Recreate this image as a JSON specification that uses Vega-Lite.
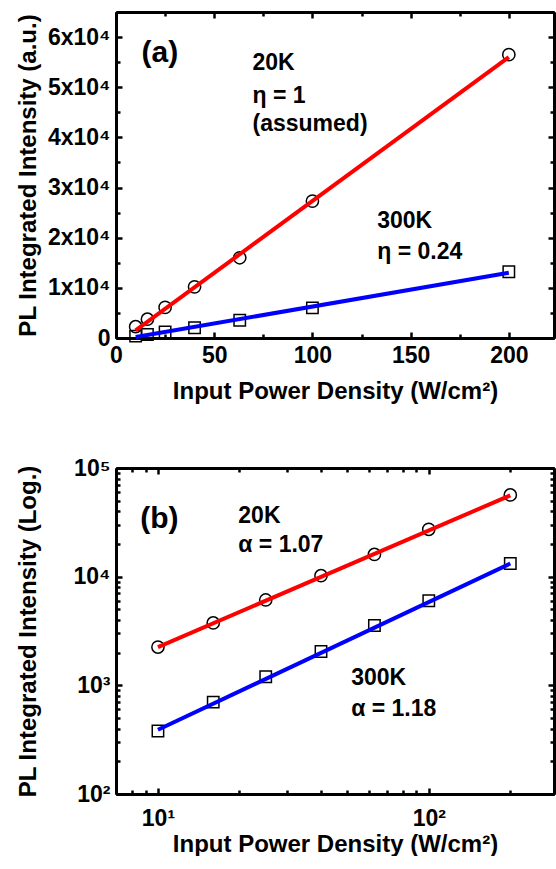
{
  "$schema": "https://vega.github.io/schema/vega-lite/v6.json",
  "padding": {"left": 15, "top": 10, "right": 0, "bottom": 0},
  "spacing": 130,
  "bounds": "flush",
  "config": {
    "view": {"stroke": null},
    "font": "Liberation Sans",
    "axis": {"grid": false, "domainColor": "black", "domainWidth": 3, "tickColor": "black", "tickWidth": 2.5, "labelFont": "Liberation Sans", "labelFontWeight": "bold", "labelFontSize": 23, "labelColor": "black", "labelFlush": false, "labelOverlap": false, "titleFont": "Liberation Sans", "titleFontWeight": "bold", "titleFontSize": 24, "titleColor": "black"},
    "text": {"font": "Liberation Sans", "fontWeight": "bold", "fontSize": 23, "color": "black"}
  },
  "datasets": {
    "points": [
      {"series": "20K", "x": 10, "y": 2250},
      {"series": "20K", "x": 16, "y": 3750},
      {"series": "20K", "x": 25, "y": 6100},
      {"series": "20K", "x": 40, "y": 10200},
      {"series": "20K", "x": 63, "y": 16000},
      {"series": "20K", "x": 100, "y": 27300},
      {"series": "20K", "x": 200, "y": 56500},
      {"series": "300K", "x": 10, "y": 380},
      {"series": "300K", "x": 16, "y": 700},
      {"series": "300K", "x": 25, "y": 1200},
      {"series": "300K", "x": 40, "y": 2050},
      {"series": "300K", "x": 63, "y": 3550},
      {"series": "300K", "x": 100, "y": 6000},
      {"series": "300K", "x": 200, "y": 13200}
    ],
    "fitA": [
      {"series": "20K", "x": 10, "y": 1500},
      {"series": "20K", "x": 200, "y": 56000},
      {"series": "300K", "x": 10, "y": 200},
      {"series": "300K", "x": 200, "y": 13000}
    ],
    "fitB": [
      {"series": "20K", "x": 10, "y": 2250},
      {"series": "20K", "x": 200, "y": 56000},
      {"series": "300K", "x": 10, "y": 390},
      {"series": "300K", "x": 200, "y": 13200}
    ],
    "labA": [
      {"label": "(a)", "x": 13, "y": 56900},
      {"label": "20K", "x": 69.5, "y": 54900},
      {"label": "η = 1", "x": 69.5, "y": 48300},
      {"label": "(assumed)", "x": 69.5, "y": 42600},
      {"label": "300K", "x": 133, "y": 23400},
      {"label": "η = 0.24", "x": 133, "y": 17100}
    ],
    "labB": [
      {"label": "(b)", "x": 8.6, "y": 33900},
      {"label": "20K", "x": 19.8, "y": 36300},
      {"label": "α = 1.07", "x": 19.8, "y": 19500},
      {"label": "300K", "x": 51.7, "y": 1156},
      {"label": "α = 1.18", "x": 51.7, "y": 600}
    ]
  },
  "vconcat": [
    {
      "width": 438,
      "height": 326,
      "resolve": {"axis": {"x": "independent", "y": "independent"}},
      "layer": [
        {
          "data": {"name": "points"},
          "transform": [{"filter": "datum.series == '20K'"}],
          "mark": {"type": "point", "shape": "circle", "filled": false, "color": "black", "strokeWidth": 1.5, "size": 150, "opacity": 1},
          "encoding": {
            "x": {"field": "x", "type": "quantitative", "scale": {"domain": [0, 223], "nice": false, "zero": false},
              "axis": {"orient": "bottom", "values": [0, 50, 100, 150, 200], "tickSize": -6, "labelPadding": 12, "format": "d", "title": "Input Power Density (W/cm²)", "titleY": 60, "titleBaseline": "alphabetic"}},
            "y": {"field": "y", "type": "quantitative", "scale": {"domain": [0, 65000], "nice": false, "zero": false},
              "axis": {"orient": "left", "values": [0, 10000, 20000, 30000, 40000, 50000, 60000], "tickSize": -6, "labelPadding": 12, "labelExpr": "datum.value == 0 ? '0' : (datum.value / 10000) + 'x10⁴'", "title": "PL Integrated Intensity (a.u.)", "titleX": -81, "titleBaseline": "alphabetic"}}
          }
        },
        {
          "data": {"name": "points"},
          "transform": [{"filter": "datum.series == '300K'"}],
          "mark": {"type": "point", "shape": "square", "filled": false, "color": "black", "strokeWidth": 1.5, "size": 130, "opacity": 1},
          "encoding": {
            "x": {"field": "x", "type": "quantitative", "axis": {"orient": "top", "values": [0, 50, 100, 150, 200], "tickSize": -6, "labels": false, "title": null}},
            "y": {"field": "y", "type": "quantitative", "axis": {"orient": "right", "values": [0, 10000, 20000, 30000, 40000, 50000, 60000], "tickSize": -6, "labels": false, "title": null}}
          }
        },
        {
          "data": {"name": "fitA"},
          "mark": {"type": "line", "strokeWidth": 4},
          "encoding": {
            "x": {"field": "x", "type": "quantitative", "axis": {"orient": "bottom", "values": [25, 75, 125, 175], "tickSize": -4, "labels": false, "title": null}},
            "y": {"field": "y", "type": "quantitative", "axis": {"orient": "left", "values": [5000, 15000, 25000, 35000, 45000, 55000], "tickSize": -4, "labels": false, "title": null}},
            "color": {"field": "series", "type": "nominal", "scale": {"domain": ["20K", "300K"], "range": ["#ff0000", "#0000ff"]}, "legend": null}
          }
        },
        {
          "data": {"name": "labA"},
          "mark": {"type": "text", "align": "left", "baseline": "middle"},
          "encoding": {
            "x": {"field": "x", "type": "quantitative", "axis": {"orient": "top", "values": [25, 75, 125, 175], "tickSize": -4, "labels": false, "title": null}},
            "y": {"field": "y", "type": "quantitative", "axis": {"orient": "right", "values": [5000, 15000, 25000, 35000, 45000, 55000], "tickSize": -4, "labels": false, "title": null}},
            "text": {"field": "label"},
            "size": {"condition": {"test": "datum.label == '(a)'", "value": 30}, "value": 23}
          }
        }
      ]
    },
    {
      "width": 438,
      "height": 326,
      "resolve": {"axis": {"x": "independent", "y": "independent"}},
      "layer": [
        {
          "data": {"name": "points"},
          "transform": [{"filter": "datum.series == '20K'"}],
          "mark": {"type": "point", "shape": "circle", "filled": false, "color": "black", "strokeWidth": 1.5, "size": 150, "opacity": 1},
          "encoding": {
            "x": {"field": "x", "type": "quantitative", "scale": {"type": "log", "domain": [7, 290], "nice": false},
              "axis": {"orient": "bottom", "values": [10, 100], "tickSize": -6, "labelPadding": 19, "labelExpr": "datum.value == 10 ? '10¹' : '10²'", "title": "Input Power Density (W/cm²)", "titleY": 57, "titleBaseline": "alphabetic"}},
            "y": {"field": "y", "type": "quantitative", "scale": {"type": "log", "domain": [100, 100000], "nice": false},
              "axis": {"orient": "left", "values": [100, 1000, 10000, 100000], "tickSize": -6, "labelPadding": 12, "labelExpr": "datum.value == 100 ? '10²' : datum.value == 1000 ? '10³' : datum.value == 10000 ? '10⁴' : '10⁵'", "title": "PL Integrated Intensity (Log.)", "titleX": -81, "titleBaseline": "alphabetic"}}
          }
        },
        {
          "data": {"name": "points"},
          "transform": [{"filter": "datum.series == '300K'"}],
          "mark": {"type": "point", "shape": "square", "filled": false, "color": "black", "strokeWidth": 1.5, "size": 130, "opacity": 1},
          "encoding": {
            "x": {"field": "x", "type": "quantitative", "axis": {"orient": "top", "values": [10, 100], "tickSize": -6, "labels": false, "title": null}},
            "y": {"field": "y", "type": "quantitative", "axis": {"orient": "right", "values": [100, 1000, 10000, 100000], "tickSize": -6, "labels": false, "title": null}}
          }
        },
        {
          "data": {"name": "fitB"},
          "mark": {"type": "line", "strokeWidth": 4},
          "encoding": {
            "x": {"field": "x", "type": "quantitative", "axis": {"orient": "bottom", "values": [8, 9, 20, 30, 40, 50, 60, 70, 80, 90, 200], "tickSize": -4, "labels": false, "title": null}},
            "y": {"field": "y", "type": "quantitative", "axis": {"orient": "left", "values": [200, 300, 400, 500, 600, 700, 800, 900, 2000, 3000, 4000, 5000, 6000, 7000, 8000, 9000, 20000, 30000, 40000, 50000, 60000, 70000, 80000, 90000], "tickSize": -4, "labels": false, "title": null}},
            "color": {"field": "series", "type": "nominal", "scale": {"domain": ["20K", "300K"], "range": ["#ff0000", "#0000ff"]}, "legend": null}
          }
        },
        {
          "data": {"name": "labB"},
          "mark": {"type": "text", "align": "left", "baseline": "middle"},
          "encoding": {
            "x": {"field": "x", "type": "quantitative", "axis": {"orient": "top", "values": [8, 9, 20, 30, 40, 50, 60, 70, 80, 90, 200], "tickSize": -4, "labels": false, "title": null}},
            "y": {"field": "y", "type": "quantitative", "axis": {"orient": "right", "values": [200, 300, 400, 500, 600, 700, 800, 900, 2000, 3000, 4000, 5000, 6000, 7000, 8000, 9000, 20000, 30000, 40000, 50000, 60000, 70000, 80000, 90000], "tickSize": -4, "labels": false, "title": null}},
            "text": {"field": "label"},
            "size": {"condition": {"test": "datum.label == '(b)'", "value": 30}, "value": 23}
          }
        }
      ]
    }
  ]
}
